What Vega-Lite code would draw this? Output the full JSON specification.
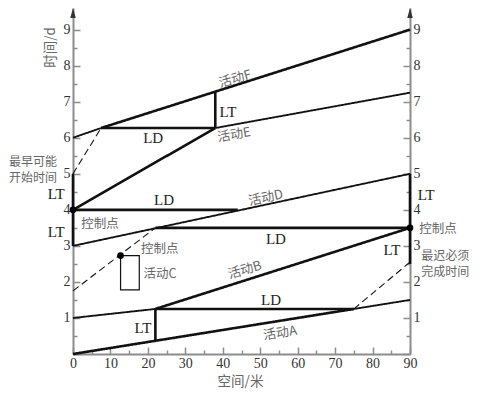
{
"$schema": "https://vega.github.io/schema/vega-lite/v6.json",
"width": 337, "height": 346,
"autosize": "none",
"padding": {"left": 73, "top": 8, "right": 82, "bottom": 39},
"background": "white",
"config": {
 "view": {"stroke": null},
 "axis": {"grid": false, "domainColor": "#8c8c8c", "domainWidth": 2, "tickColor": "#8c8c8c", "tickWidth": 1.5, "labelFont": "Liberation Serif", "labelFontSize": 14, "labelColor": "#333", "labelOverlap": false, "labelFlush": false, "titleFont": "Noto Sans CJK SC", "titleFontSize": 13.5, "titleFontWeight": "normal", "titleColor": "#666"}
},
"datasets": {
 "segs": [
  {"x":0,"y":0,"x2":75,"y2":1.25,"kind":"critical"},
  {"x":22,"y":0.37,"x2":22,"y2":1.25,"kind":"critical"},
  {"x":22,"y":1.25,"x2":75,"y2":1.25,"kind":"critical"},
  {"x":22,"y":1.25,"x2":90,"y2":3.5,"kind":"critical"},
  {"x":22,"y":3.5,"x2":90,"y2":3.5,"kind":"critical"},
  {"x":0,"y":4,"x2":44,"y2":4,"kind":"critical"},
  {"x":0,"y":4,"x2":38,"y2":6.27,"kind":"critical"},
  {"x":7.5,"y":6.27,"x2":38,"y2":6.27,"kind":"critical"},
  {"x":38,"y":6.27,"x2":38,"y2":7.28,"kind":"critical"},
  {"x":7.5,"y":6.27,"x2":90,"y2":9,"kind":"critical"},
  {"x":0,"y":3,"x2":0,"y2":5,"kind":"critical"},
  {"x":90,"y":2.5,"x2":90,"y2":5,"kind":"critical"},
  {"x":0,"y":1,"x2":22,"y2":1.25,"kind":"normal"},
  {"x":75,"y":1.25,"x2":90,"y2":1.5,"kind":"normal"},
  {"x":0,"y":3,"x2":90,"y2":5,"kind":"normal"},
  {"x":0,"y":6,"x2":7.5,"y2":6.27,"kind":"normal"},
  {"x":38,"y":6.27,"x2":90,"y2":7.25,"kind":"normal"},
  {"x":75,"y":1.25,"x2":90,"y2":2.55,"kind":"dashed"},
  {"x":0,"y":1.75,"x2":22,"y2":3.5,"kind":"dashed"},
  {"x":0,"y":5,"x2":7.5,"y2":6.27,"kind":"dashed"}
 ],
 "boxes": [{"x":12.7,"y":1.78,"x2":17.7,"y2":2.73,"name":"活动C"}],
 "dots": [{"x":0,"y":4},{"x":90,"y":3.5},{"x":12.7,"y":2.73}],
 "arrows": [{"x":0,"y":9.46},{"x":90,"y":9.46}],
 "serif": [
  {"t":"LT","x":18.7,"y":0.72},{"t":"LD","x":52.9,"y":1.5},{"t":"LD","x":21.4,"y":5.99},
  {"t":"LD","x":24.3,"y":4.27},{"t":"LT","x":94.3,"y":4.41},{"t":"LT","x":85.2,"y":2.89},
  {"t":"LT","x":-4.5,"y":4.44},{"t":"LT","x":-4.5,"y":3.39},{"t":"LD","x":54.2,"y":3.19},
  {"t":"LT","x":41.4,"y":6.71}
 ],
 "cjk": [
  {"t":"控制点","x":23.2,"y":2.91},{"t":"活动C","x":23.2,"y":2.22},{"t":"控制点","x":97.5,"y":3.47},
  {"t":"控制点","x":7.2,"y":3.61}
 ],
 "notes": [
  {"t":"最迟必须\n完成时间","x":99.4,"y":2.71},
  {"t":"最早可能\n开始时间","x":-10.7,"y":5.32}
 ],
 "acts": [
  {"t":"活动A","x":55.3,"y":0.58},{"t":"活动B","x":45.9,"y":2.33},{"t":"活动D","x":51.5,"y":4.33},
  {"t":"活动E","x":43.0,"y":6.08},{"t":"活动F","x":43.3,"y":7.63}
 ]
},
"layer": [
 {"data": {"name": "segs"}, "mark": {"type": "rule"},
  "encoding": {
   "x": {"field":"x","type":"quantitative","scale":{"domain":[0,90],"nice":false,"zero":false},
     "axis":{"orient":"bottom","values":[0,5,10,15,20,25,30,35,40,45,50,55,60,65,70,75,80,85,90],
       "labelExpr":"datum.value % 10 === 0 ? '' + datum.value : ''",
       "tickSize":{"condition":{"test":"datum.value % 10 === 0","value":-7},"value":-4},
       "labelPadding":9,"title":"空间/米","titleX":167,"titleY":27,"titleAlign":"center","titleBaseline":"middle"}},
   "y": {"field":"y","type":"quantitative","scale":{"domain":[0,9.6],"nice":false,"zero":false},
     "axis":{"orient":"left","values":[0,0.5,1,1.5,2,2.5,3,3.5,4,4.5,5,5.5,6,6.5,7,7.5,8,8.5,9],
       "labelExpr":"datum.value % 1 === 0 && datum.value > 0 ? '' + datum.value : ''",
       "tickSize":{"condition":{"test":"datum.value % 1 === 0","value":-7},"value":-4},
       "labelPadding":10,"title":"时间/d","titleAngle":-90,"titleX":-23,"titleY":39,"titleAlign":"center","titleBaseline":"middle"}},
   "x2": {"field":"x2"}, "y2": {"field":"y2"},
   "strokeWidth": {"field":"kind","type":"nominal","scale":{"domain":["critical","normal","dashed"],"range":[2.6,1.1,1.1]},"legend":null},
   "strokeDash": {"field":"kind","type":"nominal","scale":{"domain":["critical","normal","dashed"],"range":[[1,0],[1,0],[7,4]]},"legend":null},
   "color": {"value":"#111"}
  }},
 {"data": {"name": "boxes"}, "mark": {"type": "rect", "fill": null, "stroke": "#111", "strokeWidth": 1.2},
  "encoding": {
   "x": {"field":"x","type":"quantitative","scale":{"domain":[0,90],"nice":false,"zero":false},"axis":null},
   "x2": {"field":"x2"},
   "y": {"field":"y","type":"quantitative","scale":{"domain":[0,9.6],"nice":false,"zero":false},"axis":null},
   "y2": {"field":"y2"}
  }},
 {"data": {"name": "dots"}, "mark": {"type": "point", "filled": true, "shape": "circle", "size": 45, "color": "#000", "opacity": 1},
  "encoding": {
   "x": {"field":"x","type":"quantitative","scale":{"domain":[0,90],"nice":false,"zero":false},"axis":null},
   "y": {"field":"y","type":"quantitative","scale":{"domain":[0,9.6],"nice":false,"zero":false},
     "axis":{"orient":"right","values":[0,0.5,1,1.5,2,2.5,3,3.5,4,4.5,5,5.5,6,6.5,7,7.5,8,8.5,9],
       "labelExpr":"datum.value % 1 === 0 && datum.value > 0 ? '' + datum.value : ''",
       "tickSize":{"condition":{"test":"datum.value % 1 === 0","value":-7},"value":-4},
       "labelPadding":10,"title":null}}
  }},
 {"data": {"name": "arrows"}, "mark": {"type": "point", "filled": true, "shape": "M0,-1L0.55,1L-0.55,1Z", "size": 100, "color": "#333", "opacity": 1},
  "encoding": {
   "x": {"field":"x","type":"quantitative","scale":{"domain":[0,90],"nice":false,"zero":false},"axis":null},
   "y": {"field":"y","type":"quantitative","scale":{"domain":[0,9.6],"nice":false,"zero":false},"axis":null}
  }},
 {"data": {"name": "serif"}, "mark": {"type": "text", "font": "Liberation Serif", "fontSize": 15, "color": "#222", "align": "center", "baseline": "middle"},
  "encoding": {
   "x": {"field":"x","type":"quantitative","scale":{"domain":[0,90],"nice":false,"zero":false},"axis":null},
   "y": {"field":"y","type":"quantitative","scale":{"domain":[0,9.6],"nice":false,"zero":false},"axis":null},
   "text": {"field":"t"}
  }},
 {"data": {"name": "cjk"}, "mark": {"type": "text", "font": "Noto Sans CJK SC", "fontSize": 12.5, "color": "#666", "align": "center", "baseline": "middle"},
  "encoding": {
   "x": {"field":"x","type":"quantitative","scale":{"domain":[0,90],"nice":false,"zero":false},"axis":null},
   "y": {"field":"y","type":"quantitative","scale":{"domain":[0,9.6],"nice":false,"zero":false},"axis":null},
   "text": {"field":"t"}
  }},
 {"data": {"name": "notes"}, "mark": {"type": "text", "font": "Noto Sans CJK SC", "fontSize": 12, "color": "#666", "align": "center", "baseline": "middle", "lineBreak": "\n", "lineHeight": 15.5},
  "encoding": {
   "x": {"field":"x","type":"quantitative","scale":{"domain":[0,90],"nice":false,"zero":false},"axis":null},
   "y": {"field":"y","type":"quantitative","scale":{"domain":[0,9.6],"nice":false,"zero":false},"axis":null},
   "text": {"field":"t"}
  }},
 {"data": {"name": "acts"}, "transform": [{"filter": "datum.t === '活动A'"}], "mark": {"type": "text", "font": "Noto Sans CJK SC", "fontSize": 13, "color": "#666", "align": "center", "baseline": "middle", "angle": -9},
  "encoding": {
   "x": {"field":"x","type":"quantitative","scale":{"domain":[0,90],"nice":false,"zero":false},"axis":null},
   "y": {"field":"y","type":"quantitative","scale":{"domain":[0,9.6],"nice":false,"zero":false},"axis":null},
   "text": {"field":"t"}
  }},
 {"data": {"name": "acts"}, "transform": [{"filter": "datum.t === '活动B'"}], "mark": {"type": "text", "font": "Noto Sans CJK SC", "fontSize": 13, "color": "#666", "align": "center", "baseline": "middle", "angle": -16},
  "encoding": {
   "x": {"field":"x","type":"quantitative","scale":{"domain":[0,90],"nice":false,"zero":false},"axis":null},
   "y": {"field":"y","type":"quantitative","scale":{"domain":[0,9.6],"nice":false,"zero":false},"axis":null},
   "text": {"field":"t"}
  }},
 {"data": {"name": "acts"}, "transform": [{"filter": "datum.t === '活动D'"}], "mark": {"type": "text", "font": "Noto Sans CJK SC", "fontSize": 13, "color": "#666", "align": "center", "baseline": "middle", "angle": -12},
  "encoding": {
   "x": {"field":"x","type":"quantitative","scale":{"domain":[0,90],"nice":false,"zero":false},"axis":null},
   "y": {"field":"y","type":"quantitative","scale":{"domain":[0,9.6],"nice":false,"zero":false},"axis":null},
   "text": {"field":"t"}
  }},
 {"data": {"name": "acts"}, "transform": [{"filter": "datum.t === '活动E'"}], "mark": {"type": "text", "font": "Noto Sans CJK SC", "fontSize": 13, "color": "#666", "align": "center", "baseline": "middle", "angle": -10},
  "encoding": {
   "x": {"field":"x","type":"quantitative","scale":{"domain":[0,90],"nice":false,"zero":false},"axis":null},
   "y": {"field":"y","type":"quantitative","scale":{"domain":[0,9.6],"nice":false,"zero":false},"axis":null},
   "text": {"field":"t"}
  }},
 {"data": {"name": "acts"}, "transform": [{"filter": "datum.t === '活动F'"}], "mark": {"type": "text", "font": "Noto Sans CJK SC", "fontSize": 13, "color": "#666", "align": "center", "baseline": "middle", "angle": -16},
  "encoding": {
   "x": {"field":"x","type":"quantitative","scale":{"domain":[0,90],"nice":false,"zero":false},"axis":null},
   "y": {"field":"y","type":"quantitative","scale":{"domain":[0,9.6],"nice":false,"zero":false},"axis":null},
   "text": {"field":"t"}
  }}
],
"resolve": {"axis": {"x": "independent", "y": "independent"}}
}
